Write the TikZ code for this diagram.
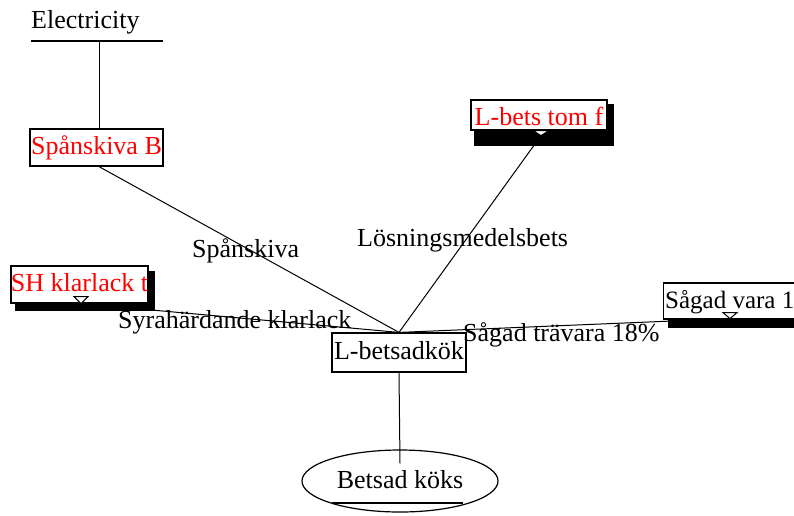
\documentclass[tikz,border=0pt]{standalone}
\usepackage{fontspec}
\setmainfont{Liberation Serif}
\usetikzlibrary{shapes.geometric,calc}
\pgfdeclarelayer{base}
\pgfdeclarelayer{wires}
\pgfdeclarelayer{shade}
\pgfsetlayers{base,wires,shade,main}
\begin{document}
\begin{tikzpicture}[x=1pt,y=-1pt,
  txt/.style={font=\fontsize{26}{28}\selectfont, inner sep=0pt},
  box/.style={txt, draw, fill=white, line width=1.2pt, inner sep=0pt,
    text height=18pt, text depth=4pt},
  proc/.style={box, text=red},
  sink/.style={txt, ellipse, draw, line width=1.2pt, inner sep=0pt,
    minimum width=196pt, minimum height=62pt, text height=18pt, text depth=4pt},
  wire/.style={line width=1pt},
  tri/.style={draw, fill=white, line width=1pt},
  shadowfill/.style={fill=black}]

\begin{pgfonlayer}{base}
  \fill[white] (0,0) rectangle (794,515);
\end{pgfonlayer}
\useasboundingbox (0,0) rectangle (794,515);
\clip (0,0) rectangle (794,515);

% energy source
\node[txt, anchor=base west] (elec) at (31,28) {Electricity};
\coordinate (busL) at (31,41);
\coordinate (busR) at (163,41);
\coordinate (bus) at (99,41);
\draw[line width=1.2pt] (busL) -- (busR);

% process boxes
\node[proc, minimum width=133pt, minimum height=37pt] (spb) at (96.5,147.5) {Spånskiva B};
\node[proc, minimum width=136pt, minimum height=30pt, text height=20pt, text depth=0pt] (lbets) at (539,115) {L-bets tom f};
\node[proc, minimum width=135pt, minimum height=37pt] (shk) at (79.5,284.5) {SH klarlack t};
\node[box, anchor=west, minimum width=160pt, minimum height=36pt] (sagv) at (663,301) {};
\node[txt, anchor=base west, font=\fontsize{25}{27}\selectfont] (sagvt) at (665,308) {Sågad vara 1};
\node[box, minimum width=134pt, minimum height=39pt] (lbk) at (399,352.5) {L-betsadkök};
\node[sink] (ell) at (400,481) {Betsad köks};
\coordinate (ulL) at ($(ell.center)+(-68,22)$);
\coordinate (ulR) at ($(ell.center)+(63,22)$);
\draw[line width=1.2pt] (ulL) -- (ulR);

% shadows
\begin{pgfonlayer}{shade}
  \fill[shadowfill] ($(lbets.north east)+(0,5)$) rectangle ($(lbets.south east)+(6,15)$);
  \fill[shadowfill] ($(lbets.south west)+(4,0)$) rectangle ($(lbets.south east)+(6,15)$);
  \fill[shadowfill] ($(shk.north west)+(5,6)$) rectangle ($(shk.south east)+(6,7)$);
  \fill[shadowfill] ($(sagv.north west)+(5,7)$) rectangle ($(sagv.south east)+(6,8)$);
\end{pgfonlayer}

% outlet markers
\coordinate (lbtop) at ($(lbets.south)+(2,0)$);
\coordinate (lbtip) at ($(lbtop)+(0,5)$);
\coordinate (shtop) at ($(shk.south)+(1.5,-7)$);
\coordinate (shtip) at ($(shtop)+(0,7)$);
\coordinate (sgtop) at ($(sagv.south west)+(67,-7)$);
\coordinate (sgtip) at ($(sgtop)+(0,6)$);
\draw[tri] ($(lbtop)+(-8,0)$) -- ($(lbtop)+(8,0)$) -- (lbtip) -- cycle;
\draw[tri] ($(shtop)+(-7,0)$) -- ($(shtop)+(7,0)$) -- (shtip) -- cycle;
\draw[tri] ($(sgtop)+(-7,0)$) -- ($(sgtop)+(7,0)$) -- (sgtip) -- cycle;

% flows
\coordinate (inlet) at ($(ell.north)+(0,14)$);
\begin{pgfonlayer}{wires}
  \draw[wire] (bus) -- (spb.north -| bus);
  \draw[wire] (spb.south -| bus) -- (lbk.north);
  \draw[wire] (lbtip) -- (lbk.north);
  \draw[wire] (shtip) -- (lbk.north);
  \draw[wire] (sgtip) -- (lbk.north);
\end{pgfonlayer}
\draw[wire] (lbk.south) -- (inlet);

% flow labels
\node[txt, anchor=base west] (spl) at (192,257) {Spånskiva};
\node[txt, anchor=base west] (lml) at (357,246) {Lösningsmedelsbets};
\node[txt, anchor=base west] (shl) at (118,328) {Syrahärdande klarlack};
\node[txt, anchor=base west] (sgl) at (463,341) {Sågad trävara 18\%};
\end{tikzpicture}
\end{document}
